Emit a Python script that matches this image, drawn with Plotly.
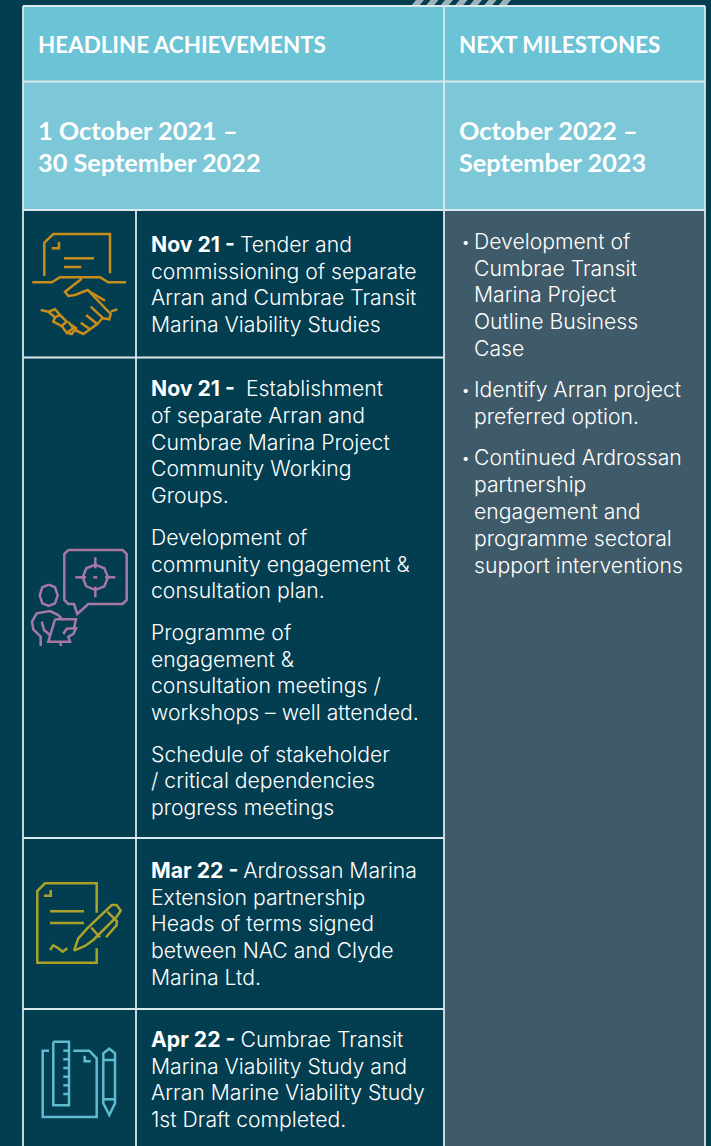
import plotly.graph_objects as go

W, H = 711, 1146
FONT = "Inter"
HEAD_FONT = "Lato"
BG = "#023d50"
HEAD1 = "#6bc3d6"
HEAD2 = "#7cc8d8"
PANEL = "#3f5a68"
RULE = "#dbe8ec"
WHITE = "#ffffff"

COL_X = [23, 136, 444, 705]
ROW_Y = [6, 81.5, 210, 357.5, 838, 1009, 1146]

TITLES = [(38, 44, "HEADLINE ACHIEVEMENTS"), (459, 44, "NEXT MILESTONES")]
PERIODS = [(38, 130, "1 October 2021 –"), (38, 162, "30 September 2022"),
           (459, 130, "October 2022 –"), (459, 162, "September 2023")]

LEFT_LINES = [
    (244, "<b>Nov 21 - </b>Tender and"), (271, "commissioning of separate"),
    (297, "Arran and Cumbrae Transit"), (324, "Marina Viability Studies"),
    (388, "<b>Nov 21 - </b> Establishment"), (415, "of separate Arran and"),
    (442, "Cumbrae Marina Project"), (468, "Community Working"), (495, "Groups."),
    (537, "Development of"), (564, "community engagement &"), (590, "consultation plan."),
    (632, "Programme of"), (659, "engagement &"), (685, "consultation meetings /"),
    (712, "workshops – well attended."),
    (754, "Schedule of stakeholder"), (780, "/ critical dependencies"), (807, "progress meetings"),
    (870, "<b>Mar 22 - </b>Ardrossan Marina"), (897, "Extension partnership"),
    (923, "Heads of terms signed"), (950, "between NAC and Clyde"), (977, "Marina Ltd."),
    (1039, "<b>Apr 22 - </b>Cumbrae Transit"), (1066, "Marina Viability Study and"),
    (1092, "Arran Marine Viability Study"), (1119, "1st Draft completed."),
]
RIGHT_LINES = [
    (241, "Development of"), (268, "Cumbrae Transit"), (294, "Marina Project"),
    (321, "Outline Business"), (348, "Case"),
    (389, "Identify Arran project"), (416, "preferred option."),
    (457, "Continued Ardrossan"), (484, "partnership"), (511, "engagement and"),
    (538, "programme sectoral"), (565, "support interventions"),
]
BULLET_Y = [242, 390, 458]
HATCH_X = [411, 425.5, 440, 454.5, 469, 483.5, 498]

# Icon strokes, in zoomed-crop units: (origin x, origin y, colour, paths)
ICONS = [
    (20, 200, "#c98d1b", [
        [(73, 228), (73, 128), (100, 102), (270, 102), (270, 220)],
        [(95, 145), (117, 145), (117, 125)],
        [(132, 175), (222, 175)], [(132, 201), (184, 201)],
        [(37, 247), (95, 247), (120, 232), (240, 232), (265, 247), (318, 247)],
        [(185, 236), (135, 275), (145, 288), (165, 285), (203, 270), (272, 342), (268, 358), (250, 355), (212, 320)],
        [(248, 354), (232, 372), (198, 345)], [(232, 372), (210, 388), (182, 368)],
        [(210, 388), (190, 402), (165, 390)], [(205, 272), (255, 302)],
        [(62, 330), (85, 335), (105, 328), (120, 345), (105, 352), (85, 335)],
        [(105, 352), (100, 365), (125, 378), (140, 365), (120, 345)],
        [(125, 378), (140, 398), (160, 385), (145, 365)],
        [(140, 398), (155, 402), (168, 385), (155, 375)],
        [(272, 335), (292, 328)],
    ]),
    (0, 530, "#a878a5", [
        [(205, 60), (368, 60), (380, 72), (380, 210), (368, 222), (265, 222), (232, 252), (222, 222),
         (205, 222), (193, 210), (193, 72), (205, 60)],
        [(286, 82), (286, 115)], [(286, 170), (286, 202)], [(226, 142), (258, 142)], [(315, 142), (346, 142)],
        [(280, 142), (292, 142)],
        [(286, 104), (313, 115), (324, 142), (313, 169), (286, 180), (259, 169), (248, 142), (259, 115), (286, 104)],
        [(146, 164), (165, 172), (173, 196), (165, 220), (146, 228), (127, 220), (119, 196), (127, 172), (146, 164)],
        [(122, 348), (122, 320), (100, 298), (96, 275), (110, 250), (150, 243), (175, 255), (188, 270)],
        [(125, 275), (132, 300), (150, 315)],
        [(165, 268), (228, 268), (222, 295), (228, 295), (220, 312), (205, 320), (210, 335), (145, 335), (165, 268)],
        [(190, 312), (200, 296), (222, 295)], [(182, 335), (182, 348)],
    ]),
    (0, 860, "#a9a32b", [
        [(290, 158), (290, 70), (135, 70), (112, 93), (112, 308), (290, 308), (290, 265)],
        [(132, 107), (152, 107), (152, 90)],
        [(150, 154), (252, 154)], [(150, 189), (252, 189)],
        [(150, 270), (160, 256), (175, 265), (188, 275), (202, 265)],
        [(222, 272), (235, 235), (262, 205), (335, 135), (350, 135), (362, 152), (350, 170), (280, 240), (255, 258), (222, 272)],
        [(274, 203), (300, 232)], [(322, 155), (350, 183), (350, 195), (318, 232)],
    ]),
    (0, 860, "#5fbcd0", [
        [(160, 545), (207, 545), (207, 736), (160, 736), (160, 545)],
        [(207, 572), (190, 572)], [(207, 598), (190, 598)], [(207, 624), (190, 624)],
        [(207, 650), (190, 650)], [(207, 676), (190, 676)], [(207, 702), (190, 702)],
        [(147, 572), (128, 572), (128, 771), (290, 771), (290, 595), (268, 572), (220, 572)],
        [(254, 587), (254, 604), (272, 604)],
        [(310, 600), (310, 580), (328, 566), (345, 580), (345, 730), (328, 765), (310, 730), (310, 600)],
        [(310, 600), (345, 600)], [(310, 718), (345, 718)],
    ]),
]

shapes = []


def rect(x0, y0, x1, y1, fill):
    shapes.append(dict(type="rect", x0=x0, y0=y0, x1=x1, y1=y1, fillcolor=fill, line_width=0, layer="below"))


def line(x0, y0, x1, y1, color=RULE, width=1.8):
    shapes.append(dict(type="line", x0=x0, y0=y0, x1=x1, y1=y1, line=dict(color=color, width=width)))


rect(COL_X[0], ROW_Y[0], COL_X[3], ROW_Y[1], HEAD1)
rect(COL_X[0], ROW_Y[1], COL_X[3], ROW_Y[2], HEAD2)
rect(COL_X[2], ROW_Y[2], COL_X[3], H, PANEL)

for hx in HATCH_X:
    shapes.append(dict(type="path", path=f"M{hx},6 L{hx + 8},6 L{hx + 13},0 L{hx + 5},0 Z",
                       fillcolor="#9db3bb", line_width=0))

for y in ROW_Y[:3]:
    line(COL_X[0], y, COL_X[3], y)
for y in ROW_Y[3:6]:
    line(COL_X[0], y, COL_X[2], y)
line(COL_X[0], ROW_Y[0], COL_X[0], H)
line(COL_X[3], ROW_Y[0], COL_X[3], H)
line(COL_X[2], ROW_Y[0], COL_X[2], H)
line(COL_X[1], ROW_Y[2], COL_X[1], H)

for ox, oy, color, paths in ICONS:
    for p in paths:
        d = "M" + " L".join(f"{ox + x / 3:.1f},{oy + y / 3:.1f}" for x, y in p)
        shapes.append(dict(type="path", path=d, line=dict(color=color, width=2.5)))

annotations = []


def label(x, y, text, size, family=FONT, bold=False, weight=None):
    font = dict(family=family, size=size, color=WHITE)
    if weight:
        font["weight"] = weight
    annotations.append(dict(x=x - 2.5, y=y, text=f"<b>{text}</b>" if bold else text, xref="x", yref="y",
                            xanchor="left", yanchor="middle", showarrow=False, font=font))


for x, y, t in TITLES:
    label(x, y, t, 22.4, family=HEAD_FONT, bold=True)
for x, y, t in PERIODS:
    label(x, y, t, 25.3, family=HEAD_FONT, bold=True)
for y, t in LEFT_LINES:
    label(151, y, t, 21.2, weight=300)
for y, t in RIGHT_LINES:
    label(474, y, t, 21.2, weight=300)
for y in BULLET_Y:
    label(462, y, "•", 13)

fig = go.Figure(go.Scatter(x=[0, W], y=[0, H], mode="markers", marker=dict(opacity=0), hoverinfo="skip",
                           showlegend=False))
fig.update_layout(width=W, height=H, margin=dict(l=0, r=0, t=0, b=0), paper_bgcolor=BG, plot_bgcolor=BG,
                  shapes=shapes, annotations=annotations, showlegend=False,
                  xaxis=dict(range=[0, W], visible=False, fixedrange=True),
                  yaxis=dict(range=[H, 0], visible=False, fixedrange=True))
fig.write_html("out.html", config={"displayModeBar": False},
               post_script="document.body.style.margin='0';document.body.style.background='%s';" % BG)
